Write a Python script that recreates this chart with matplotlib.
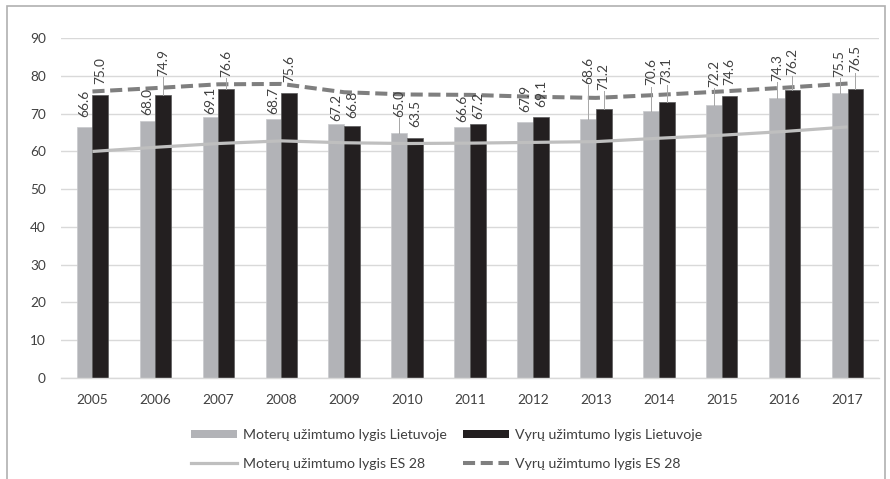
import matplotlib
matplotlib.use("Agg")
import matplotlib.pyplot as plt
import numpy as np
from matplotlib.patches import Rectangle
from matplotlib.lines import Line2D
from matplotlib.patches import Patch

plt.rcParams['font.family'] = ['Lato', 'DejaVu Sans']

years = ['2005', '2006', '2007', '2008', '2009', '2010', '2011', '2012',
         '2013', '2014', '2015', '2016', '2017']
women_lt = [66.6, 68.0, 69.1, 68.7, 67.2, 65.0, 66.6, 67.9, 68.6, 70.6, 72.2, 74.3, 75.5]
men_lt = [75.0, 74.9, 76.6, 75.6, 66.8, 63.5, 67.2, 69.1, 71.2, 73.1, 74.6, 76.2, 76.5]
women_eu = [60.0, 61.1, 62.1, 62.8, 62.3, 62.1, 62.2, 62.4, 62.6, 63.5, 64.3, 65.3, 66.5]
men_eu = [75.9, 76.8, 77.8, 77.9, 75.7, 75.1, 75.0, 74.5, 74.2, 75.0, 75.9, 76.9, 78.0]

# where the (moved) data labels sit, in axis units
women_label_at = [69.1, 69.6, 70.0, 70.0, 68.2, 69.1, 67.8, 70.4, 77.9, 77.5, 77.1, 78.8, 79.7]
men_label_at = [77.9, 80.1, 79.7, 78.4, 68.8, 66.5, 68.7, 71.8, 76.2, 77.9, 77.5, 80.2, 81.0]

labels = ['Moterų užimtumo lygis Lietuvoje', 'Vyrų užimtumo lygis Lietuvoje',
          'Moterų užimtumo lygis ES 28', 'Vyrų užimtumo lygis ES 28']

C_W = '#b2b3b7'
C_M = '#231f20'
C_WL = '#bfbfbf'
C_ML = '#7f7f7f'
TXT = '#404040'
FS = 9.8

fig = plt.figure(figsize=(8.9, 4.79), dpi=100)
ax = fig.add_axes([61/890, 1-377.7/479, (879-61)/890, (377.7-38.3)/479])

x = np.arange(len(years))
w = 0.25
ax.bar(x - w/2, women_lt, width=w, color=C_W, edgecolor='#c8c9cc', linewidth=0.5, zorder=2)
ax.bar(x + w/2, men_lt, width=w, color=C_M, edgecolor='#5a5a5a', linewidth=0.5, zorder=2)
ax.plot(x, women_eu, color=C_WL, lw=2.3, zorder=3, solid_capstyle='butt')
ax.plot(x, men_eu, color=C_ML, lw=2.9, zorder=3, dashes=(3.0, 1.4), dash_capstyle='butt')

for xs, vals, pos in [(x - w/2, women_lt, women_label_at), (x + w/2, men_lt, men_label_at)]:
    for xi, v, p in zip(xs, vals, pos):
        if p - v > 3.0:
            ax.plot([xi, xi], [v, p - 0.3], color='#a6a6a6', lw=0.7, zorder=4)
        ax.text(xi, p, f'{v:.1f}', rotation=90, ha='center', va='bottom',
                fontsize=FS, color=TXT, zorder=5)

ax.set_xlim(-0.5, len(years) - 0.5)
ax.set_ylim(0, 90)
ax.set_yticks(np.arange(0, 91, 10))
ax.set_xticks(x)
ax.set_xticklabels(years)
ax.grid(axis='y', color='#d9d9d9', lw=1.0, zorder=0)
ax.set_axisbelow(True)
for s in ['top', 'right', 'left']:
    ax.spines[s].set_visible(False)
ax.spines['bottom'].set_color('#d9d9d9')
ax.spines['bottom'].set_linewidth(1.0)
ax.tick_params(axis='both', length=0, labelsize=FS, labelcolor=TXT)
ax.tick_params(axis='y', pad=11)
ax.tick_params(axis='x', pad=12)

# ---- legend: fit font so the longest label is ~204 px wide ----
renderer = fig.canvas.get_renderer()
def text_w(s, size):
    t = fig.text(0, 0, s, fontsize=size)
    wpx = t.get_window_extent(renderer).width
    t.remove()
    return wpx

base = 10.0
LFS = base * 204.0 / text_w(labels[0], base)
fpx = LFS * 100 / 72.0
w0 = text_w(labels[0], LFS)
w2 = text_w(labels[2], LFS)
col1_left, col2_left = 191.0, 463.0
hlen_px, hpad_px = 46.0, 6.0
cs1 = (col2_left - (col1_left + hlen_px + hpad_px + w0)) / fpx
cs2 = (col2_left - (col1_left + hlen_px + hpad_px + w2)) / fpx

h1 = [Patch(facecolor=C_W, edgecolor='none'), Patch(facecolor=C_M, edgecolor='none')]
fig.legend(h1, labels[:2], ncol=2, loc='center left',
           bbox_to_anchor=(col1_left/890, 1-435/479), frameon=False,
           fontsize=LFS, handlelength=hlen_px/fpx, handleheight=6.5/fpx,
           handletextpad=hpad_px/fpx, columnspacing=cs1, labelcolor=TXT,
           borderpad=0, borderaxespad=0)
h2 = [Line2D([], [], color=C_WL, lw=2.3),
      Line2D([], [], color=C_ML, lw=2.9, dashes=(3.0, 1.4))]
fig.legend(h2, labels[2:], ncol=2, loc='center left',
           bbox_to_anchor=(col1_left/890, 1-464/479), frameon=False,
           fontsize=LFS, handlelength=hlen_px/fpx, handletextpad=hpad_px/fpx,
           columnspacing=cs2, labelcolor=TXT,
           borderpad=0, borderaxespad=0)

fig.patches.append(Rectangle((7/890, -0.05), (885-7)/890, 1.05 - 6/479,
                             transform=fig.transFigure, fill=False,
                             edgecolor='#b0b0b0', lw=1.2))

fig.savefig('out.png', dpi=100, facecolor='white')
